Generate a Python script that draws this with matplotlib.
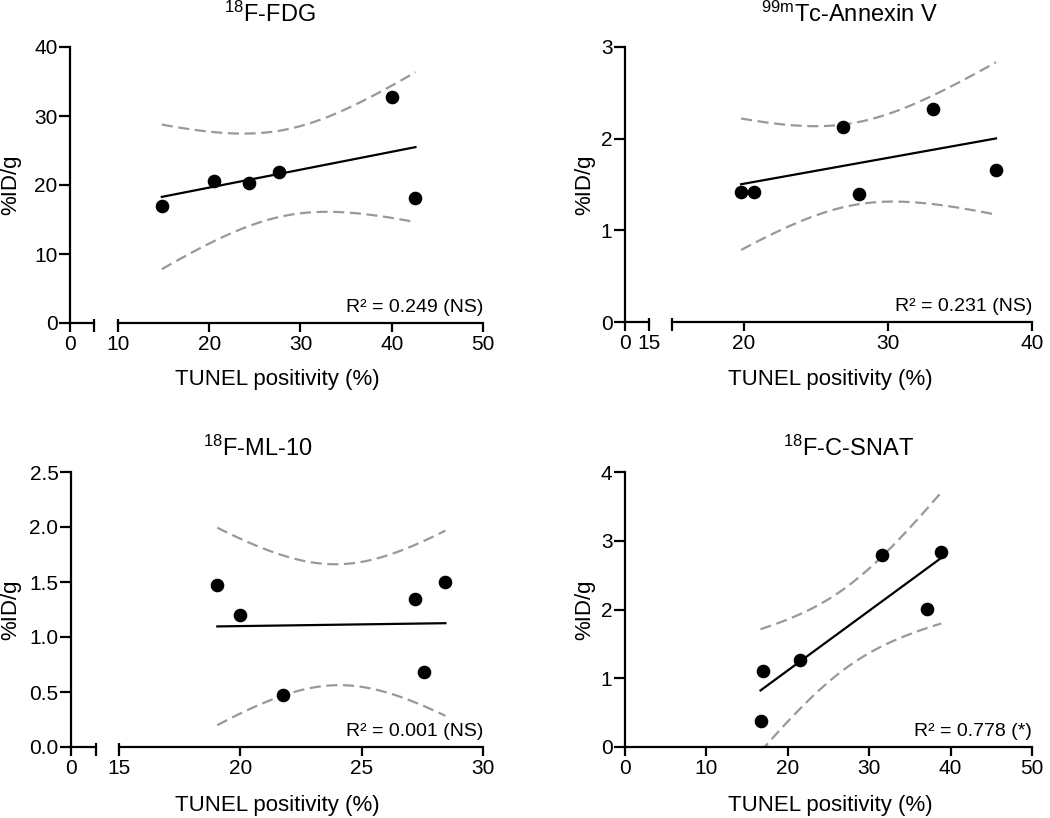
import numpy as np
import matplotlib
matplotlib.use("Agg")
import matplotlib.pyplot as plt

plt.rcParams['font.family'] = ['Liberation Sans', 'DejaVu Sans']
plt.rcParams['mathtext.fontset'] = 'custom'
plt.rcParams['mathtext.rm'] = 'Liberation Sans'
plt.rcParams['mathtext.default'] = 'regular'

# data (TUNEL positivity %, uptake %ID/g)
fdg_x = [14.8, 20.5, 24.4, 27.6, 40.0, 42.6]
fdg_y = [17.0, 20.6, 20.3, 21.9, 32.8, 18.1]

annexin_x = [19.8, 20.7, 26.9, 28.0, 33.1, 37.5]
annexin_y = [1.42, 1.42, 2.13, 1.40, 2.32, 1.66]

ml10_x = [19.05, 20.0, 21.75, 27.2, 27.55, 28.45]
ml10_y = [1.47, 1.20, 0.47, 1.35, 0.68, 1.50]

csnat_x = [16.65, 16.95, 21.5, 31.6, 37.15, 38.85]
csnat_y = [0.38, 1.11, 1.26, 2.79, 2.01, 2.84]

titles = [r'$^{18}$F-FDG', r'$^{99m}$Tc-Annexin V', r'$^{18}$F-ML-10', r'$^{18}$F-C-SNAT']
r2_labels = ['R\u00b2 = 0.249 (NS)', 'R\u00b2 = 0.231 (NS)', 'R\u00b2 = 0.001 (NS)', 'R\u00b2 = 0.778 (*)']

T_CRIT = 2.776  # t(0.975, df=4)

W, H = 1050, 818
fig = plt.figure(figsize=(W / 100, H / 100), dpi=100)

LW = 1.6
TICK_FS = 15
LABEL_FS = 16


def px_rect(x0, x1, ytop, ybot):
    return [x0 / W, 1 - ybot / H, (x1 - x0) / W, (ybot - ytop) / H]


def style(ax):
    for s in ['top', 'right']:
        ax.spines[s].set_visible(False)
    for s in ['left', 'bottom']:
        ax.spines[s].set_linewidth(LW)
    ax.tick_params(axis='both', which='major', direction='out', width=LW,
                   labelsize=TICK_FS)
    ax.tick_params(axis='x', which='major', length=6.5, pad=2)
    ax.tick_params(axis='y', which='major', length=8, pad=1)
    ax.patch.set_alpha(0)


def fit_plot(ax, x, y):
    x = np.asarray(x)
    y = np.asarray(y)
    n = len(x)
    slope, icpt = np.polyfit(x, y, 1)
    xx = np.linspace(x.min(), x.max(), 100)
    yy = slope * xx + icpt
    resid = y - (slope * x + icpt)
    se = np.sqrt(np.sum(resid ** 2) / (n - 2))
    sxx = np.sum((x - x.mean()) ** 2)
    band = T_CRIT * se * np.sqrt(1 / n + (xx - x.mean()) ** 2 / sxx)
    ax.plot(xx, yy, color='black', lw=LW, zorder=3)
    for sgn in (1, -1):
        ax.plot(xx, yy + sgn * band, color='#999999', lw=LW,
                linestyle=(0, (5, 2.5)), zorder=2)
    ax.plot(x, y, 'o', color='black', markersize=8.8, zorder=4, clip_on=False)


def panel(geom, xlim_a, xlim_b, ticks_a, tlabels_a, ticks_b, tlabels_b,
          ylim, yticks, ylabels, x, y, r2):
    xa0, xa1, xb0, xb1, ytop, ybot = geom
    ax_b = fig.add_axes(px_rect(xb0, xb1, ytop, ybot))
    style(ax_b)
    ax_b.set_xlim(*xlim_b)
    ax_b.set_ylim(*ylim)
    ax_b.spines['left'].set_visible(False)
    ax_b.set_yticks([])
    ax_b.set_xticks(ticks_b)
    ax_b.set_xticklabels(tlabels_b)
    fit_plot(ax_b, x, y)
    ax_b.text(1.0, 0.025, r2, transform=ax_b.transAxes, ha='right', va='bottom',
              fontsize=14)
    if xlim_a is not None:
        ax_a = fig.add_axes(px_rect(xa0, xa1, ytop, ybot))
        style(ax_a)
        ax_a.set_xlim(*xlim_a)
        ax_a.set_ylim(*ylim)
        ax_a.set_xticks(ticks_a)
        ax_a.set_xticklabels(tlabels_a)
        # small upward marks at the break ends
        ax_a.xaxis.remove_overlapping_locs = False
        ax_b.xaxis.remove_overlapping_locs = False
        ax_a.set_xticks([xlim_a[1]], minor=True)
        ax_b.set_xticks([xlim_b[0]], minor=True)
        for a in (ax_a, ax_b):
            a.tick_params(axis='x', which='minor', direction='in', length=3,
                          width=LW)
    else:
        ax_a = ax_b
        ax_b.spines['left'].set_visible(True)
    ax_a.set_yticks(yticks)
    ax_a.set_yticklabels(ylabels)
    return ax_a, ax_b


def fig_text(xp, yp, s, **kw):
    fig.text(xp / W, 1 - yp / H, s, ha='center', va='center', **kw)


# 18F-FDG
panel((70, 94, 118, 483, 47, 323), (0, 10), (10, 50),
      [0, 10], ['0', ''], [10, 20, 30, 40, 50], ['10', '20', '30', '40', '50'],
      (0, 40), [0, 10, 20, 30, 40], ['0', '10', '20', '30', '40'],
      fdg_x, fdg_y, r2_labels[0])

# 99mTc-Annexin V
panel((625, 649, 672, 1032, 47, 322), (0, 15), (15, 40),
      [0, 15], ['0', '15'], [15, 20, 30, 40], ['', '20', '30', '40'],
      (0, 3), [0, 1, 2, 3], ['0', '1', '2', '3'],
      annexin_x, annexin_y, r2_labels[1])

# 18F-ML-10
panel((71, 95.5, 119, 483, 472, 747), (0, 15), (15, 30),
      [0, 15], ['0', ''], [15, 20, 25, 30], ['15', '20', '25', '30'],
      (0, 2.5), [0, 0.5, 1.0, 1.5, 2.0, 2.5],
      ['0.0', '0.5', '1.0', '1.5', '2.0', '2.5'],
      ml10_x, ml10_y, r2_labels[2])

# 18F-C-SNAT (no axis break)
panel((None, None, 625, 1032, 472, 747), None, (0, 50),
      None, None, [0, 10, 20, 30, 40, 50], ['0', '10', '20', '30', '40', '50'],
      (0, 4), [0, 1, 2, 3, 4], ['0', '1', '2', '3', '4'],
      csnat_x, csnat_y, r2_labels[3])

# titles
fig_text(270, 14, titles[0], fontsize=17)
fig_text(849, 14, titles[1], fontsize=17)
fig_text(258, 448, titles[2], fontsize=17)
fig_text(848, 448, titles[3], fontsize=17)

# axis labels
for xp, yp in [(277, 380), (830, 380), (277, 805), (830, 805)]:
    fig_text(xp, yp, 'TUNEL positivity (%)', fontsize=LABEL_FS)
for xp, yp in [(11, 185), (585, 185), (11, 610), (585, 610)]:
    fig_text(xp, yp, '%ID/g', fontsize=LABEL_FS, rotation=90)

fig.savefig('out.png', dpi=100)
